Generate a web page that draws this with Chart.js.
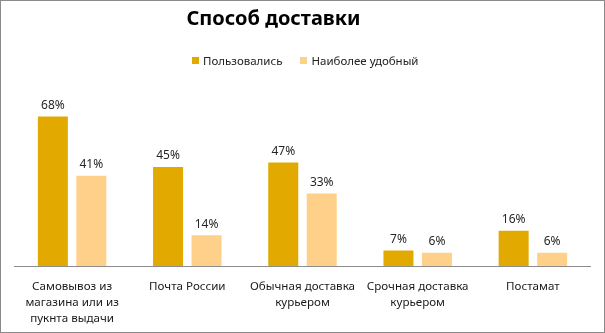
<!DOCTYPE html>
<html lang="ru">
<head>
<meta charset="utf-8">
<script src="https://cdn.jsdelivr.net/npm/chart.js@4/dist/chart.umd.min.js"></script>
<style>
  html, body { margin: 0; padding: 0; background: #fff; }
  #wrap { position: relative; width: 605px; height: 333px; overflow: hidden; }
  #chart { position: absolute; left: 0; top: 0; }
  #frame { position: absolute; left: 0; top: 0; width: 605px; height: 333px;
           box-sizing: border-box; border: 1px solid #8a8a8a; pointer-events: none; }
  #title { position: absolute; left: 0; width: 547px; top: 4px; text-align: center;
           font: bold 20px "Noto Sans", sans-serif; color: #000; }
  #legend { position: absolute; left: 192px; top: 53px; font: 11.5px "Noto Sans", sans-serif;
            color: #222; display: flex; align-items: center; white-space: nowrap; }
  #legend .item { display: flex; align-items: center; margin-right: 18px; }
  #legend .sw { width: 7px; height: 7px; margin-right: 4px; }
</style>
</head>
<body>
<div id="wrap">
  <canvas id="chart" width="605" height="333"></canvas>
  <div id="title">Способ доставки</div>
  <div id="legend"></div>
  <div id="frame"></div>
</div>
<script>
// Delivery methods (multi-line labels as arrays)
const categories = [
  ["Самовывоз из", "магазина или из", "пукнта выдачи"],
  "Почта России",
  ["Обычная доставка", "курьером"],
  ["Срочная доставка", "курьером"],
  "Постамат"
];
const seriesNames = ["Пользовались", "Наиболее удобный"];
const usedValues = [68, 45, 47, 7, 16];
const preferredValues = [41, 14, 33, 6, 6];
const seriesColors = ["#E2AA00", "#FFD08A"];

// Legend as HTML
const legendEl = document.getElementById('legend');
seriesNames.forEach((name, i) => {
  const item = document.createElement('div');
  item.className = 'item';
  const sw = document.createElement('div');
  sw.className = 'sw';
  sw.style.background = seriesColors[i];
  const txt = document.createElement('span');
  txt.textContent = name;
  item.appendChild(sw);
  item.appendChild(txt);
  legendEl.appendChild(item);
});

// Percent labels above every bar
const valueLabels = {
  id: 'valueLabels',
  afterDatasetsDraw(chart) {
    const ctx = chart.ctx;
    ctx.save();
    ctx.font = '12px "Noto Sans", sans-serif';
    ctx.fillStyle = '#262626';
    ctx.textAlign = 'center';
    ctx.textBaseline = 'bottom';
    chart.data.datasets.forEach((ds, di) => {
      chart.getDatasetMeta(di).data.forEach((bar, i) => {
        ctx.fillText(ds.data[i] + '%', bar.x, bar.y - 5);
      });
    });
    ctx.restore();
  }
};

new Chart(document.getElementById('chart'), {
  type: 'bar',
  data: {
    labels: categories,
    datasets: [
      { label: seriesNames[0], data: usedValues, backgroundColor: seriesColors[0] },
      { label: seriesNames[1], data: preferredValues, backgroundColor: seriesColors[1] }
    ]
  },
  options: {
    responsive: false,
    animation: false,
    events: [],
    categoryPercentage: 0.668,
    barPercentage: 0.78,
    layout: { padding: { left: 14.5, right: 14.5, top: 90, bottom: 0 } },
    plugins: {
      legend: { display: false },
      title: { display: false },
      tooltip: { enabled: false }
    },
    scales: {
      x: {
        grid: { display: false, drawTicks: false },
        border: { display: true, color: '#8c8c8c', width: 1, dash: [3, 1] },
        ticks: {
          padding: 12,
          maxRotation: 0,
          autoSkip: false,
          color: '#1a1a1a',
          font: { family: '"Noto Sans", sans-serif', size: 11.6, lineHeight: 1.42 }
        },
        afterFit(scale) { scale.height = 67; }
      },
      y: {
        display: false,
        min: 0,
        max: 80
      }
    }
  },
  plugins: [valueLabels]
});
</script>
</body>
</html>
